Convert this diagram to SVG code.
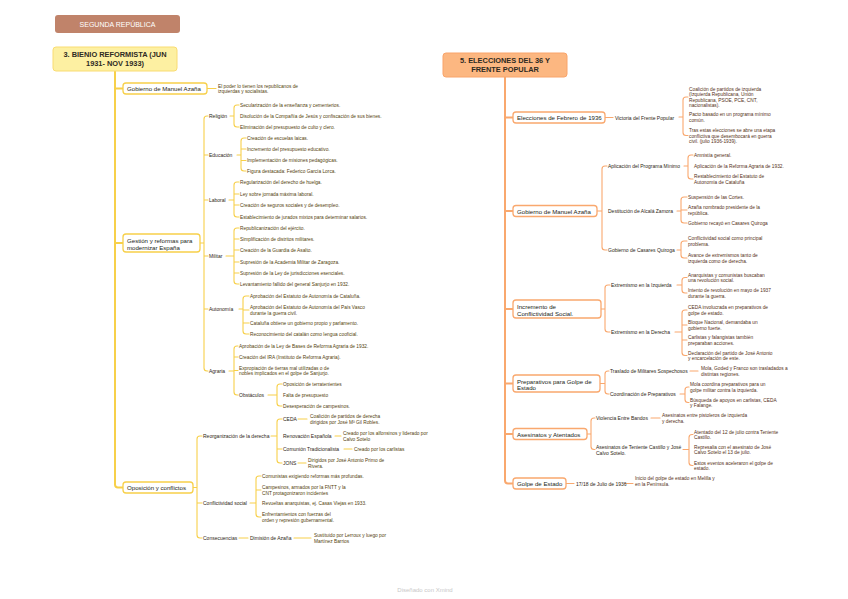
<svg xmlns="http://www.w3.org/2000/svg" width="848" height="599" viewBox="0 0 848 599">
<style>
text{font-family:"Liberation Sans",Arial,sans-serif;dominant-baseline:central}
.cy{fill:none;stroke:#f7d04a;stroke-width:1.1;stroke-linecap:round}
.co{fill:none;stroke:#f9a86e;stroke-width:1.1;stroke-linecap:round}
.ty{fill:none;stroke:#f7d04a;stroke-width:2}
.to{fill:none;stroke:#f9a86e;stroke-width:2}
.by{fill:#fff;stroke:#f7d04a;stroke-width:1.3}
.bo{fill:#fff;stroke:#f9a86e;stroke-width:1.3}
.bl{font-size:6.1px;fill:#221e16}
.sl{font-size:5px;fill:#2e2614}
.ly{font-size:4.8px;fill:#54420c}
.lo{font-size:4.8px;fill:#553016}
.rt{font-size:7.4px;font-weight:bold;fill:#2e2a22;text-anchor:middle}
</style>
<rect width="848" height="599" fill="#fff"/>

<g id="connectors">
<path class="ty" d="M115,71 V484.5 Q115,487.5 118,487.5 H123 M115,88.5 H123 M115,243 H123"/>
<path class="cy" d="M207,88.5 H216"/>
<path class="cy" d="M200,243 H204 M208,116 H207 Q204,116 204,119 V368 Q204,371 207,371 H208 M204,155 H208 M204,200 H208 M204,256 H208 M204,309 H208"/>
<path class="cy" d="M230,116 H234 M239,105 H237 Q234,105 234,108 V124 Q234,127 237,127 H239"/>
<path class="cy" d="M237,155 H241 M246,138 H244 Q241,138 241,141 V168 Q241,171 244,171 H246 M241,149 H246 M241,160.5 H246"/>
<path class="cy" d="M229,200 H234 M239,182 H237 Q234,182 234,185 V214 Q234,217 237,217 H239 M234,194 H239 M234,205 H239"/>
<path class="cy" d="M226,256 H234 M239,228 H237 Q234,228 234,231 V281 Q234,284 237,284 H239 M234,239 H239 M234,250 H239 M234,262 H239 M234,273 H239"/>
<path class="cy" d="M239,309 H243 M249,296 H246 Q243,296 243,299 V331 Q243,334 246,334 H249 M243,310 H249 M243,323 H249"/>
<path class="cy" d="M229,371 H234 M238,346 H237 Q234,346 234,349 V392 Q234,395 237,395 H238 M234,357 H238 M234,370.5 H238"/>
<path class="cy" d="M268,395 H277 M282,384 H280 Q277,384 277,387 V403 Q277,406 280,406 H282"/>
<path class="cy" d="M193,487.5 H197 M202,436 H200 Q197,436 197,439 V535 Q197,538 200,538 H202 M197,503 H202"/>
<path class="cy" d="M271,436 H277 M282,419 H280 Q277,419 277,422 V460 Q277,463 280,463 H282 M277,449 H282"/>
<path class="cy" d="M298,419 H307 M335,436 H341 M344,449 H352 M298,463 H306"/>
<path class="cy" d="M250,503 H256 M261,476 H259 Q256,476 256,479 V514 Q256,517 259,517 H261 M256,490 H261"/>
<path class="cy" d="M239,538 H248 M294,538 H311"/>

<path class="to" d="M505,77 V480.5 Q505,483.5 508,483.5 H513 M505,117.5 H513 M505,211 H513 M505,309 H513 M505,383.5 H513 M505,434 H513"/>
<path class="co" d="M605,117.5 H613"/>
<path class="co" d="M679,117 H683 M688,97 H686 Q683,97 683,100 V132.5 Q683,135.5 686,135.5 H688"/>
<path class="co" d="M597,211 H602 M607,166 H605 Q602,166 602,169 V247 Q602,250 605,250 H607"/>
<path class="co" d="M684,166 H688 M693,155 H691 Q688,155 688,158 V176 Q688,179 691,179 H693"/>
<path class="co" d="M677,211 H681 M687,197 H684 Q681,197 681,200 V220 Q681,223 684,223 H687 M681,210 H687"/>
<path class="co" d="M677,250 H681 M687,241 H684 Q681,241 681,244 V255 Q681,258 684,258 H687"/>
<path class="co" d="M601,309 H605 M610,285 H608 Q605,285 605,288 V329 Q605,332 608,332 H610"/>
<path class="co" d="M677,285 H682 M687,277.5 H685 Q682,277.5 682,280.5 V290 Q682,293 685,293 H687"/>
<path class="co" d="M675,332 H682 M687,310 H685 Q682,310 682,313 V352.5 Q682,355.5 685,355.5 H687 M682,325 H687 M682,340 H687"/>
<path class="co" d="M600,383.5 H605 M609,371 H608 Q605,371 605,374 V391 Q605,394 608,394 H609"/>
<path class="co" d="M690,371 H698"/>
<path class="co" d="M680,394 H685 M689,387 H688 Q685,387 685,390 V399.5 Q685,402.5 688,402.5 H689"/>
<path class="co" d="M587,434 H591 M595,418 H594 Q591,418 591,421 V446.5 Q591,449.5 594,449.5 H595"/>
<path class="co" d="M651,418 H660"/>
<path class="co" d="M683,449.5 H689 M693,434.5 H692 Q689,434.5 689,437.5 V462.5 Q689,465.5 692,465.5 H693"/>
<path class="co" d="M566,483.5 H574 M625,483.5 H633"/>
</g>

<g id="title">
<rect x="55" y="15" width="125" height="18" rx="3" fill="#c0836a"/>
<text x="117.5" y="24" style="font-size:7px;fill:#fff;text-anchor:middle">SEGUNDA REPÚBLICA</text>
</g>

<!-- LEFT TREE -->
<g id="root-bienio">
<rect x="53" y="47" width="124" height="24" rx="3" fill="#fdf0a2" stroke="#f9dc72" stroke-width="1"/>
<text class="rt" x="115" y="54.5">3. BIENIO REFORMISTA (JUN</text>
<text class="rt" x="115" y="63.5">1931- NOV 1933)</text>
</g>
<g id="gobierno-azana-1">
<rect class="by" x="123" y="83" width="84" height="11" rx="3"/>
<text class="bl" x="127" y="88.5">Gobierno de Manuel Azaña</text>
<text class="ly" x="218"><tspan x="218" y="85.5">El poder lo tienen los republicanos de</tspan><tspan x="218" y="90.8">izquierdas y socialistas.</tspan></text>
</g>
<g id="gestion">
<rect class="by" x="123" y="234" width="77" height="18" rx="3"/>
<text class="bl"><tspan x="127" y="240">Gestión y reformas para</tspan><tspan x="127" y="246.5">modernizar España</tspan></text>
</g>
<g id="religion">
<text class="sl" x="209" y="116">Religión</text>
<text class="ly" x="240" y="105">Secularización de la enseñanza y cementerios.</text>
<text class="ly" x="240" y="116">Disolución de la Compañía de Jesús y confiscación de sus bienes.</text>
<text class="ly" x="240" y="127">Eliminación del presupuesto de culto y clero.</text>
</g>
<g id="educacion">
<text class="sl" x="209" y="155">Educación</text>
<text class="ly" x="247" y="138">Creación de escuelas laicas.</text>
<text class="ly" x="247" y="149">Incremento del presupuesto educativo.</text>
<text class="ly" x="247" y="160.5">Implementación de misiones pedagógicas.</text>
<text class="ly" x="247" y="171">Figura destacada: Federico García Lorca.</text>
</g>
<g id="laboral">
<text class="sl" x="209" y="200">Laboral</text>
<text class="ly" x="240" y="182">Regularización del derecho de huelga.</text>
<text class="ly" x="240" y="194">Ley sobre jornada máxima laboral.</text>
<text class="ly" x="240" y="205">Creación de seguros sociales y de desempleo.</text>
<text class="ly" x="240" y="217">Establecimiento de jurados mixtos para determinar salarios.</text>
</g>
<g id="militar">
<text class="sl" x="209" y="256">Militar</text>
<text class="ly" x="240" y="228">Republicanización del ejército.</text>
<text class="ly" x="240" y="239">Simplificación de distritos militares.</text>
<text class="ly" x="240" y="250">Creación de la Guardia de Asalto.</text>
<text class="ly" x="240" y="262">Supresión de la Academia Militar de Zaragoza.</text>
<text class="ly" x="240" y="273">Supresión de la Ley de jurisdicciones esenciales.</text>
<text class="ly" x="240" y="284">Levantamiento fallido del general Sanjurjo en 1932.</text>
</g>
<g id="autonomia">
<text class="sl" x="209" y="309">Autonomía</text>
<text class="ly" x="250" y="296">Aprobación del Estatuto de Autonomía de Cataluña.</text>
<text class="ly"><tspan x="250" y="307.3">Aprobación del Estatuto de Autonomía del País Vasco</tspan><tspan x="250" y="312.7">durante la guerra civil.</tspan></text>
<text class="ly" x="250" y="323">Cataluña obtiene un gobierno propio y parlamento.</text>
<text class="ly" x="250" y="334">Reconocimiento del catalán como lengua cooficial.</text>
</g>
<g id="agraria">
<text class="sl" x="209" y="371">Agraria</text>
<text class="ly" x="239" y="346">Aprobación de la Ley de Bases de Reforma Agraria de 1932.</text>
<text class="ly" x="239" y="357">Creación del IRA (Instituto de Reforma Agraria).</text>
<text class="ly"><tspan x="239" y="367.8">Expropiación de tierras mal utilizadas o de</tspan><tspan x="239" y="373.2">nobles implicados en el golpe de Sanjurjo.</tspan></text>
</g>
<g id="obstaculos">
<text class="sl" x="239" y="395">Obstáculos</text>
<text class="ly" x="283" y="384">Oposición de terratenientes</text>
<text class="ly" x="283" y="395">Falta de presupuesto</text>
<text class="ly" x="283" y="406">Desesperación de campesinos.</text>
</g>
<g id="oposicion">
<rect class="by" x="123" y="482" width="70" height="11" rx="3"/>
<text class="bl" x="127" y="487.5">Oposición y conflictos</text>
</g>
<g id="reorganizacion">
<text class="sl" x="203" y="436">Reorganización de la derecha</text>
<text class="sl" x="283" y="419">CEDA</text>
<text class="ly"><tspan x="310" y="416.3">Coalición de partidos de derecha</tspan><tspan x="310" y="421.7">dirigidos por José Mª Gil Robles.</tspan></text>
<text class="sl" x="283" y="436">Renovación Española</text>
<text class="ly"><tspan x="343" y="433.3">Creado por los alfonsinos y liderado por</tspan><tspan x="343" y="438.7">Calvo Sotelo</tspan></text>
<text class="sl" x="283" y="449">Comunión Tradicionalista</text>
<text class="ly" x="354" y="449">Creado por los carlistas</text>
<text class="sl" x="283" y="463">JONS</text>
<text class="ly"><tspan x="308" y="460.3">Dirigidos por José Antonio Primo de</tspan><tspan x="308" y="465.7">Rivera.</tspan></text>
</g>
<g id="conflictividad-1">
<text class="sl" x="203" y="503">Conflictividad social</text>
<text class="ly" x="262" y="476">Comunistas exigiendo reformas más profundas.</text>
<text class="ly"><tspan x="262" y="487.3">Campesinos, armados por la FNTT y la</tspan><tspan x="262" y="492.7">CNT protagonizaron incidentes</tspan></text>
<text class="ly" x="262" y="503">Revueltas anarquistas, ej. Casas Viejas en 1933.</text>
<text class="ly"><tspan x="262" y="514.3">Enfrentamientos con fuerzas del</tspan><tspan x="262" y="519.7">orden y represión gubernamental.</tspan></text>
</g>
<g id="consecuencias">
<text class="sl" x="203" y="538">Consecuencias</text>
<text class="sl" x="250" y="538">Dimisión de Azaña</text>
<text class="ly"><tspan x="314" y="535.3">Sustituido por Lerroux y luego por</tspan><tspan x="314" y="540.7">Martínez Barrios</tspan></text>
</g>

<!-- RIGHT TREE -->
<g id="root-elecciones">
<rect x="443" y="53" width="124" height="24" rx="3" fill="#fcb781" stroke="#f9a46a" stroke-width="1"/>
<text class="rt" x="505" y="60.5">5. ELECCIONES DEL 36 Y</text>
<text class="rt" x="505" y="69.5">FRENTE POPULAR</text>
</g>
<g id="elecciones-1936">
<rect class="bo" x="513" y="112" width="92" height="11" rx="3"/>
<text class="bl" x="517" y="117.5">Elecciones de Febrero de 1936</text>
<text class="sl" x="615" y="117.5">Victoria del Frente Popular</text>
<text class="lo"><tspan x="689" y="88.8">Coalición de partidos de izquierda</tspan><tspan x="689" y="94.2">(Izquierda Republicana, Unión</tspan><tspan x="689" y="99.6">Republicana, PSOE, PCE, CNT,</tspan><tspan x="689" y="105">nacionalistas).</tspan></text>
<text class="lo"><tspan x="689" y="114.3">Pacto basado en un programa mínimo</tspan><tspan x="689" y="119.7">común.</tspan></text>
<text class="lo"><tspan x="689" y="130.1">Tras estas elecciones se abre una etapa</tspan><tspan x="689" y="135.5">conflictiva que desembocará en guerra</tspan><tspan x="689" y="140.9">civil. (julio 1936-1939).</tspan></text>
</g>
<g id="gobierno-azana-2">
<rect class="bo" x="513" y="205.5" width="84" height="11" rx="3"/>
<text class="bl" x="517" y="211">Gobierno de Manuel Azaña</text>
</g>
<g id="programa-minimo">
<text class="sl" x="608" y="166">Aplicación del Programa Mínimo</text>
<text class="lo" x="694" y="155">Amnistía general.</text>
<text class="lo" x="694" y="166">Aplicación de la Reforma Agraria de 1932.</text>
<text class="lo"><tspan x="694" y="176.3">Restablecimiento del Estatuto de</tspan><tspan x="694" y="181.7">Autonomía de Cataluña</tspan></text>
</g>
<g id="destitucion">
<text class="sl" x="608" y="211">Destitución de Alcalá Zamora</text>
<text class="lo" x="688" y="197">Suspensión de las Cortes.</text>
<text class="lo"><tspan x="688" y="207.3">Azaña nombrado presidente de la</tspan><tspan x="688" y="212.7">república.</tspan></text>
<text class="lo" x="688" y="223">Gobierno recayó en Casares Quiroga</text>
</g>
<g id="casares">
<text class="sl" x="608" y="250">Gobierno de Casares Quiroga</text>
<text class="lo"><tspan x="688" y="238.3">Conflictividad social como principal</tspan><tspan x="688" y="243.7">problema.</tspan></text>
<text class="lo"><tspan x="688" y="255.3">Avance de extremismos tanto de</tspan><tspan x="688" y="260.7">izquierda como de derecha.</tspan></text>
</g>
<g id="incremento">
<rect class="bo" x="513" y="300" width="88" height="18" rx="3"/>
<text class="bl"><tspan x="517" y="306">Incremento de</tspan><tspan x="517" y="312.5">Conflictividad Social.</tspan></text>
</g>
<g id="ext-izquierda">
<text class="sl" x="611" y="285">Extremismo en la Izquierda</text>
<text class="lo"><tspan x="688" y="274.8">Anarquistas y comunistas buscaban</tspan><tspan x="688" y="280.2">una revolución social.</tspan></text>
<text class="lo"><tspan x="688" y="290.3">Intento de revolución en mayo de 1937</tspan><tspan x="688" y="295.7">durante la guerra.</tspan></text>
</g>
<g id="ext-derecha">
<text class="sl" x="611" y="332">Extremismo en la Derecha</text>
<text class="lo"><tspan x="688" y="307.3">CEDA involucrada en preparativos de</tspan><tspan x="688" y="312.7">golpe de estado.</tspan></text>
<text class="lo"><tspan x="688" y="322.3">Bloque Nacional, demandaba un</tspan><tspan x="688" y="327.7">gobierno fuerte.</tspan></text>
<text class="lo"><tspan x="688" y="337.3">Carlistas y falangistas también</tspan><tspan x="688" y="342.7">preparaban acciones.</tspan></text>
<text class="lo"><tspan x="688" y="352.8">Declaración del partido de José Antonio</tspan><tspan x="688" y="358.2">y encarcelación de este.</tspan></text>
</g>
<g id="preparativos">
<rect class="bo" x="513" y="375" width="87" height="17" rx="3"/>
<text class="bl"><tspan x="517" y="380.5">Preparativos para Golpe de</tspan><tspan x="517" y="387">Estado</tspan></text>
</g>
<g id="traslado">
<text class="sl" x="610" y="371">Traslado de Militares Sospechosos</text>
<text class="lo"><tspan x="701" y="368.3">Mola, Goded y Franco son trasladados a</tspan><tspan x="701" y="373.7">distintas regiones.</tspan></text>
</g>
<g id="coordinacion">
<text class="sl" x="610" y="394">Coordinación de Preparativos</text>
<text class="lo"><tspan x="690" y="384.3">Mola coordina preparativos para un</tspan><tspan x="690" y="389.7">golpe militar contra la izquierda.</tspan></text>
<text class="lo"><tspan x="690" y="399.8">Búsqueda de apoyos en carlistas, CEDA</tspan><tspan x="690" y="405.2">y Falange.</tspan></text>
</g>
<g id="asesinatos">
<rect class="bo" x="513" y="428.5" width="74" height="11" rx="3"/>
<text class="bl" x="517" y="434">Asesinatos y Atentados</text>
</g>
<g id="violencia">
<text class="sl" x="596" y="418">Violencia Entre Bandos</text>
<text class="lo"><tspan x="662" y="415.3">Asesinatos entre pistoleros de izquierda</tspan><tspan x="662" y="420.7">y derecha.</tspan></text>
</g>
<g id="castillo-calvo">
<text class="sl"><tspan x="596" y="447">Asesinatos de Teniente Castillo y José</tspan><tspan x="596" y="452.5">Calvo Sotelo.</tspan></text>
<text class="lo"><tspan x="694" y="431.8">Atentado del 12 de julio contra Teniente</tspan><tspan x="694" y="437.2">Castillo.</tspan></text>
<text class="lo"><tspan x="694" y="446.8">Represalia con el asesinato de José</tspan><tspan x="694" y="452.2">Calvo Sotelo el 13 de julio.</tspan></text>
<text class="lo"><tspan x="694" y="462.8">Estos eventos aceleraron el golpe de</tspan><tspan x="694" y="468.2">estado.</tspan></text>
</g>
<g id="golpe">
<rect class="bo" x="513" y="478" width="53" height="11" rx="3"/>
<text class="bl" x="517" y="483.5">Golpe de Estado</text>
<text class="sl" x="576" y="483.5">17/18 de Julio de 1936</text>
<text class="lo"><tspan x="635" y="478.3">Inicio del golpe de estado en Melilla y</tspan><tspan x="635" y="483.7">en la Península.</tspan></text>
</g>
<text x="425" y="590" style="font-size:6px;fill:#c8c8c8;text-anchor:middle">Diseñado con Xmind</text>
</svg>
